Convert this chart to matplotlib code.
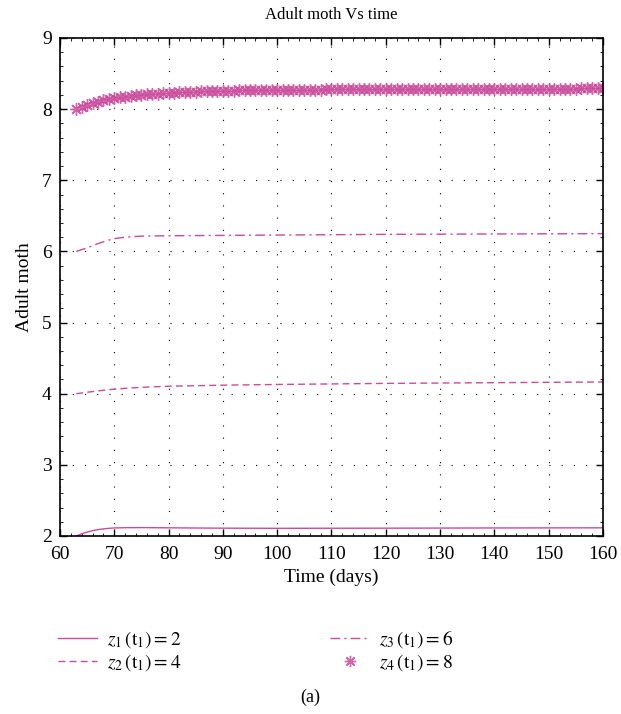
import numpy as np
import matplotlib
matplotlib.use('Agg')
import matplotlib.pyplot as plt
from matplotlib.ticker import AutoMinorLocator

plt.rcParams['font.family'] = ['Liberation Serif', 'DejaVu Serif']
plt.rcParams['mathtext.fontset'] = 'stix'

color = '#c94b9b'

# z1 (t1) = 2
t_z1 = [63, 64, 65, 66, 67, 68, 69, 70, 72, 75, 80, 90, 100, 120, 140, 160]
z1 = [2.0, 2.03, 2.055, 2.075, 2.09, 2.10, 2.108, 2.113, 2.117, 2.118,
      2.115, 2.11, 2.108, 2.11, 2.113, 2.115]

# z2 (t1) = 4
t_z2 = [63, 65, 67, 70, 75, 80, 90, 100, 120, 140, 160]
z2 = [4.0, 4.02, 4.04, 4.065, 4.09, 4.105, 4.12, 4.13, 4.145, 4.155, 4.165]

# z3 (t1) = 6
t_z3 = [63, 65, 67, 69, 70, 72, 75, 80, 90, 100, 120, 140, 160]
z3 = [6.0, 6.05, 6.11, 6.16, 6.18, 6.20, 6.215, 6.22, 6.225, 6.23, 6.24,
      6.245, 6.25]

# z4 (t1) = 8, one value per day from 63 to 160
t_z4 = np.arange(63, 161)
z4 = [8.000, 8.030, 8.060, 8.085, 8.105, 8.125, 8.140,
      8.155, 8.165, 8.175, 8.185, 8.195, 8.200, 8.207, 8.213, 8.219, 8.224,
      8.229, 8.233, 8.237, 8.240, 8.243, 8.246, 8.249, 8.251, 8.253, 8.255,
      8.257, 8.259, 8.261, 8.262, 8.264, 8.265, 8.266, 8.267, 8.268, 8.269,
      8.270, 8.271, 8.272, 8.272, 8.273, 8.274, 8.274, 8.275, 8.275, 8.276,
      8.276, 8.277, 8.277, 8.278, 8.278, 8.278, 8.279, 8.279, 8.280, 8.280,
      8.280, 8.281, 8.281, 8.281, 8.282, 8.282, 8.282, 8.283, 8.283, 8.283,
      8.284, 8.284, 8.284, 8.284, 8.285, 8.285, 8.285, 8.285, 8.286, 8.286,
      8.286, 8.286, 8.287, 8.287, 8.287, 8.287, 8.288, 8.288, 8.288, 8.288,
      8.288, 8.289, 8.289, 8.289, 8.289, 8.289, 8.290, 8.290, 8.290, 8.290, 8.290]

labels = [r'$z_1\,(\mathrm{t}_1) = 2$', r'$z_2\,(\mathrm{t}_1) = 4$',
          r'$z_3\,(\mathrm{t}_1) = 6$', r'$z_4\,(\mathrm{t}_1) = 8$']

fig = plt.figure(figsize=(6.21, 7.14), dpi=100)
ax = fig.add_axes([0.0966, 0.2493, 0.8744, 0.6975])

l1, = ax.plot(t_z1, z1, '-', color=color, lw=1.0)
l2, = ax.plot(t_z2, z2, '--', color=color, lw=1.0, dashes=(5, 3))
l3, = ax.plot(t_z3, z3, '-.', color=color, lw=1.0, dashes=(7, 3, 1.5, 3))
l4, = ax.plot(t_z4, z4, linestyle='none', marker=(8, 2, 0), markersize=9,
              markeredgewidth=1.0, color=color, markeredgecolor=color, alpha=0.85)

ax.set_xlim(60, 160)
ax.set_ylim(2, 9)
ax.set_xticks(range(60, 161, 10))
ax.set_yticks(range(2, 10))
ax.xaxis.set_minor_locator(AutoMinorLocator(5))
ax.yaxis.set_minor_locator(AutoMinorLocator(5))
ax.tick_params(which='both', direction='in', top=True, right=True, labelsize=14)
ax.tick_params(axis='x', which='major', pad=7)
ax.tick_params(axis='y', which='major', pad=6)
ax.tick_params(which='major', length=5, width=1)
ax.tick_params(which='minor', length=2.5, width=0.6)
for s in ax.spines.values():
    s.set_linewidth(1.2)
ax.grid(True, which='major', color='black', linestyle=(0, (1, 10)), linewidth=0.8)

ax.set_title('Adult moth Vs time', fontsize=12, pad=14)
ax.set_xlabel('Time (days)', fontsize=14, labelpad=4)
ax.set_ylabel('Adult moth', fontsize=14, labelpad=6)

fig.legend([l1, l2, l3, l4], labels, loc='upper left', bbox_to_anchor=(0.066, 0.145),
           ncol=2, frameon=False, fontsize=14, columnspacing=7.65,
           handlelength=2.0, handletextpad=0.5, labelspacing=0.1, markerscale=0.9)

fig.text(0.5, 0.024, '(a)', ha='center', va='center', fontsize=13)

fig.savefig('out.png', dpi=100)
